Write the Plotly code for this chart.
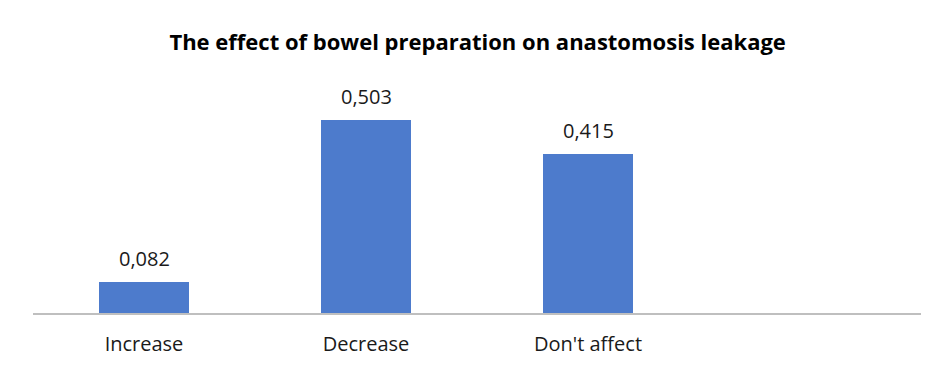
import plotly.graph_objects as go

categories = ["Increase", "Decrease", "Don't affect"]
values = [0.082, 0.503, 0.415]
value_labels = ["0,082", "0,503", "0,415"]
title_text = "The effect of bowel preparation on anastomosis leakage"

positions = list(range(len(categories)))

fig = go.Figure()
fig.add_trace(go.Bar(
    x=positions,
    y=values,
    width=0.405,
    marker=dict(color="#4d7bcc", line=dict(width=0)),
    hoverinfo="skip",
))

for p, v, lab in zip(positions, values, value_labels):
    fig.add_annotation(
        x=p, y=v, text=lab, showarrow=False,
        xanchor="center", yanchor="bottom", yshift=8,
        font=dict(family="Open Sans", size=20, color="#1a1a1a"),
    )

fig.update_layout(
    width=944, height=369,
    margin=dict(l=33, r=23, t=84, b=54),
    paper_bgcolor="white", plot_bgcolor="white",
    showlegend=False,
    title=dict(
        text="<b>" + title_text + "</b>",
        x=0.506, xanchor="center", y=0.886, yanchor="middle",
        font=dict(family="Open Sans", size=22, color="#000000"),
    ),
    xaxis=dict(
        range=[-0.5, 3.5],
        tickmode="array", tickvals=positions, ticktext=categories,
        showgrid=False, zeroline=False,
        showline=True, linecolor="#bfbfbf", linewidth=1.5,
        ticks="", ticklabelstandoff=12,
        tickfont=dict(family="Open Sans", size=20, color="#1a1a1a"),
    ),
    yaxis=dict(
        range=[0, 0.598], visible=False, showgrid=False, zeroline=False,
    ),
    bargap=0,
)

fig.write_html("out.html")
